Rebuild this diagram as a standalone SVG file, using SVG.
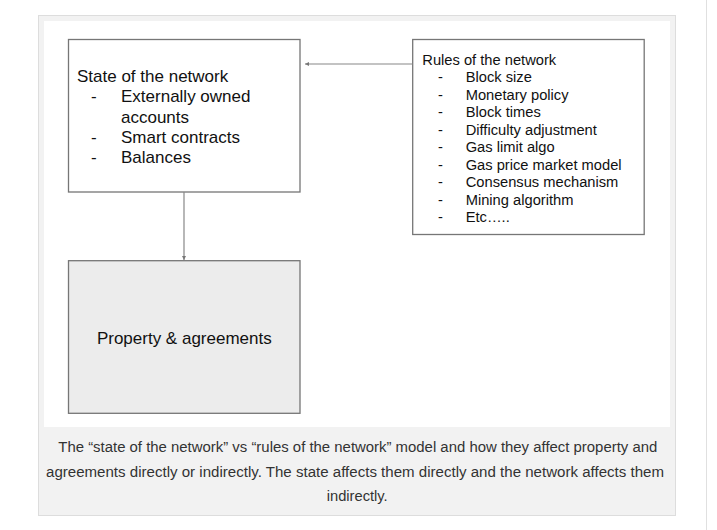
<svg xmlns="http://www.w3.org/2000/svg" width="717" height="530" viewBox="0 0 717 530">
<defs>
<style>
.box{fill:#ffffff;stroke:#767676;stroke-width:1.3}
.gbox{fill:#ececec;stroke:#767676;stroke-width:1.3}
.t17{font-family:"Liberation Sans",Arial,sans-serif;font-size:17px;fill:#111}
.t14{font-family:"Liberation Sans",Arial,sans-serif;font-size:14.7px;fill:#111}
.cap{font-family:"Liberation Sans",Arial,sans-serif;font-size:14px;fill:#333;text-anchor:middle}
.conn{fill:none;stroke:#888;stroke-width:1.2}
</style>
<marker id="arr" viewBox="0 0 6 6" refX="6" refY="3" markerWidth="4" markerHeight="4" orient="auto" markerUnits="userSpaceOnUse">
<path d="M0,0 L6,3 L0,6 z" fill="#777"/>
</marker>
</defs>
<rect x="0" y="0" width="717" height="530" fill="#ffffff"/>
<line x1="706.5" y1="0" x2="706.5" y2="530" stroke="#e0e0e0" stroke-width="1"/>
<g id="frame">
<rect x="38.5" y="15.5" width="637" height="500" fill="#f2f2f2" stroke="#dddddd" stroke-width="1"/>
<rect x="44" y="21" width="626" height="406" fill="#ffffff"/>
</g>
<g id="state">
<rect class="box" x="68.5" y="39.5" width="231.5" height="152.5"/>
<text class="t17" x="77" y="82">State of the network</text>
<text class="t17" x="91" y="102">-</text>
<text class="t17" x="121" y="102">Externally owned</text>
<text class="t17" x="121" y="122.5">accounts</text>
<text class="t17" x="91" y="142.5">-</text>
<text class="t17" x="121" y="142.5">Smart contracts</text>
<text class="t17" x="91" y="163">-</text>
<text class="t17" x="121" y="163">Balances</text>
</g>
<g id="rules">
<rect class="box" x="412.7" y="39.5" width="231.5" height="195"/>
<text class="t14" x="422.3" y="64.5">Rules of the network</text>
<g class="t14">
<text x="438" y="82">-</text><text x="465.7" y="82">Block size</text>
<text x="438" y="99.5">-</text><text x="465.7" y="99.5">Monetary policy</text>
<text x="438" y="117">-</text><text x="465.7" y="117">Block times</text>
<text x="438" y="134.5">-</text><text x="465.7" y="134.5">Difficulty adjustment</text>
<text x="438" y="152">-</text><text x="465.7" y="152">Gas limit algo</text>
<text x="438" y="169.5">-</text><text x="465.7" y="169.5">Gas price market model</text>
<text x="438" y="187">-</text><text x="465.7" y="187">Consensus mechanism</text>
<text x="438" y="204.5">-</text><text x="465.7" y="204.5">Mining algorithm</text>
<text x="438" y="222">-</text><text x="465.7" y="222">Etc…..</text>
</g>
</g>
<g id="property">
<rect class="gbox" x="68.5" y="260.7" width="231.5" height="152.6"/>
<text class="t17" x="184.3" y="344" text-anchor="middle">Property &amp; agreements</text>
</g>
<g id="connectors">
<line class="conn" x1="412.7" y1="64" x2="305" y2="64" marker-end="url(#arr)"/>
<line class="conn" x1="184" y1="192" x2="184" y2="260" marker-end="url(#arr)"/>
</g>
<g id="caption">
<text class="cap" x="357.8" y="452" textLength="599" lengthAdjust="spacingAndGlyphs">The “state of the network” vs “rules of the network” model and how they affect property and</text>
<text class="cap" x="355" y="476.5" textLength="618" lengthAdjust="spacingAndGlyphs">agreements directly or indirectly. The state affects them directly and the network affects them</text>
<text class="cap" x="357.2" y="501" textLength="61" lengthAdjust="spacingAndGlyphs">indirectly.</text>
</g>
</svg>
